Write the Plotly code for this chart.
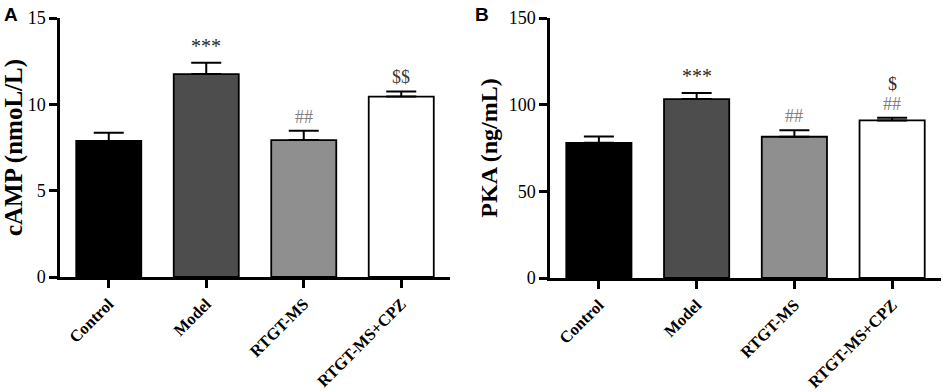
import plotly.graph_objects as go

categories = ["Control", "Model", "RTGT-MS", "RTGT-MS+CPZ"]
camp_mean = [7.88, 11.75, 7.93, 10.45]
camp_sem = [0.48, 0.66, 0.54, 0.30]
pka_mean = [78.0, 103.2, 81.5, 90.9]
pka_sem = [3.6, 3.6, 3.8, 1.5]
camp_marks = [[], ["***"], ["##"], ["$$"]]
pka_marks = [[], ["***"], ["##"], ["##", "$"]]

bar_colors = ["#000000", "#4d4d4d", "#8f8f8f", "#ffffff"]
mark_colors = {"***": "#2a2a2a", "##": "#808080", "$$": "#3a3a3a", "$": "#2a2a2a"}

SERIF = "Liberation Serif, Times New Roman, serif"
SANS = "Liberation Sans, Arial, sans-serif"

fig = go.Figure()

def add_panel(means, sems, xa, ya):
    fig.add_trace(go.Bar(
        x=categories, y=means, xaxis=xa, yaxis=ya,
        marker=dict(color=bar_colors, line=dict(color="#000000", width=1.8)),
        error_y=dict(type="data", array=sems, arrayminus=[0] * len(sems),
                     symmetric=False, color="#000000", thickness=2, width=15),
        width=0.667, showlegend=False,
    ))

add_panel(camp_mean, camp_sem, "x", "y")
add_panel(pka_mean, pka_sem, "x2", "y2")

line_common = dict(showline=True, linewidth=2.5, linecolor="#000000",
                   ticks="outside", ticklen=8, tickwidth=2.5, tickcolor="#000000",
                   showgrid=False, zeroline=False, automargin=False)
xfont = dict(family=SERIF, size=16.5, color="#000000")
yfont = dict(family=SERIF, size=18, color="#000000")

W, H = 943, 392
fig.update_layout(
    width=W, height=H, margin=dict(l=0, r=0, t=0, b=0, autoexpand=False),
    plot_bgcolor="#ffffff", paper_bgcolor="#ffffff",
    xaxis=dict(domain=[60 / W, 450 / W], range=[-0.5, 3.5], anchor="y",
               tickangle=-45, tickfont=xfont, **line_common),
    yaxis=dict(domain=[1 - 277 / H, 1 - 18 / H], range=[0, 15], anchor="x",
               tickvals=[0, 5, 10, 15], tickfont=yfont, **line_common,
               title=dict(text="<b>cAMP (nmoL/L)</b>", standoff=3,
                          font=dict(family=SERIF, size=25, color="#000000"))),
    xaxis2=dict(domain=[550 / W, 941 / W], range=[-0.5, 3.5], anchor="y2",
                tickangle=-45, tickfont=xfont, **line_common),
    yaxis2=dict(domain=[1 - 278 / H, 1 - 18 / H], range=[0, 150], anchor="x2",
                tickvals=[0, 50, 100, 150], tickfont=yfont, **line_common,
                title=dict(text="<b>PKA (ng/mL)</b>", standoff=5,
                           font=dict(family=SERIF, size=24, color="#000000"))),
)
fig.update_xaxes(tickprefix="<b>", ticksuffix="</b>")
fig.update_yaxes(tickprefix="<b>", ticksuffix="</b>")

annotations = []
def add_marks(means, sems, marks, xref, yref):
    for i, ms in enumerate(marks):
        top = means[i] + sems[i]
        for j, m in enumerate(ms):
            shift = (4 if m == "***" else 2) + 20 * j
            annotations.append(dict(
                x=categories[i], y=top, xref=xref, yref=yref,
                text=m, showarrow=False, yanchor="bottom", yshift=shift,
                font=dict(family=SERIF, size=20 if m == "***" else 18, color=mark_colors[m]),
            ))

add_marks(camp_mean, camp_sem, camp_marks, "x", "y")
add_marks(pka_mean, pka_sem, pka_marks, "x2", "y2")

annotations.append(dict(x=2 / W, y=1 - 2 / H, xref="paper", yref="paper", text="<b>A</b>",
                        showarrow=False, xanchor="left", yanchor="top",
                        font=dict(family=SANS, size=19, color="#000000")))
annotations.append(dict(x=473 / W, y=1 - 2 / H, xref="paper", yref="paper", text="<b>B</b>",
                        showarrow=False, xanchor="left", yanchor="top",
                        font=dict(family=SANS, size=19, color="#000000")))
fig.update_layout(annotations=annotations)

fig.write_html("out.html", config={"displayModeBar": False},
               post_script="document.body.style.margin='0';document.body.style.overflow='hidden';")
